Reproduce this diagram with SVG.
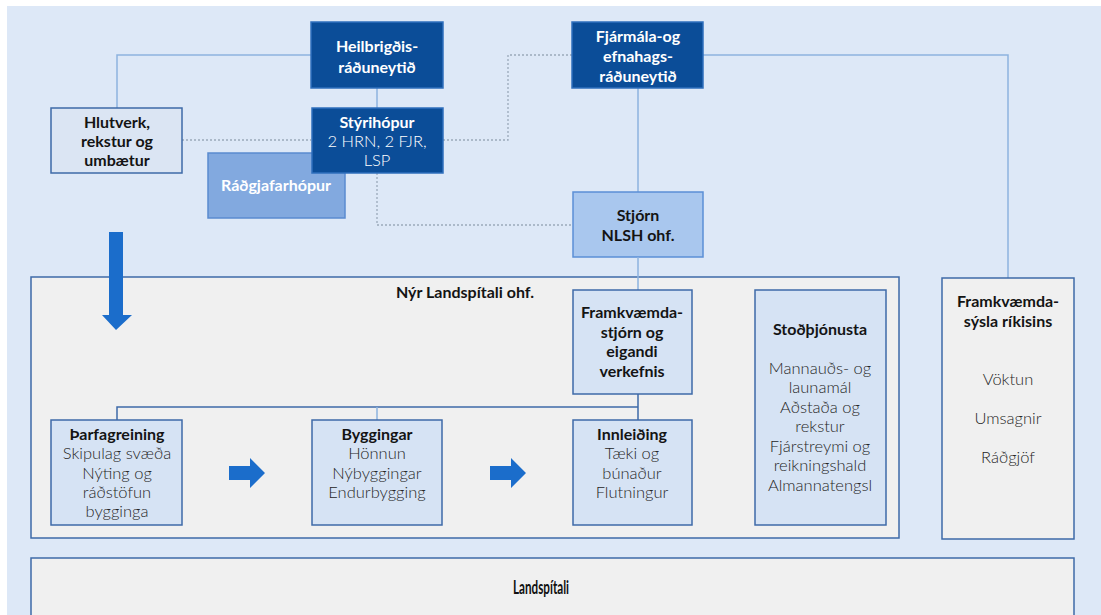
<svg xmlns="http://www.w3.org/2000/svg" width="1101" height="615" viewBox="0 0 1101 615">
  <style>
    .dark { fill: #0b4d98; stroke: #2f6fbd; stroke-width: 1.5; }
    .mid { fill: #82a9df; stroke: #5a8bd0; stroke-width: 1.5; }
    .pale { fill: #a9c7ee; stroke: #5b8fd6; stroke-width: 1.5; }
    .soft { fill: #d6e3f4; stroke: #3e6aa8; stroke-width: 1.5; }
    .grey { fill: #f0f0f0; stroke: #3e6aa8; stroke-width: 1.5; }
    .line { fill: none; stroke: #8db3df; stroke-width: 1.5; }
    .dot { fill: none; stroke: #9aa9bb; stroke-width: 1.3; stroke-dasharray: 2 2; }
    .arrow { fill: #1b6dcb; }
    text { font-family: Lato, "Liberation Sans", sans-serif; font-size: 16px; text-anchor: middle; }
    .w { fill: #ffffff; }
    .k { fill: #141414; }
    .b { font-weight: 700; }
    .l { font-weight: 300; fill: #262626; font-size: 16.5px; }
    .cond { font-size: 18px; font-weight: 700; fill: #111111; }
  </style>

  <!-- background panel -->
  <rect x="7" y="6" width="1094" height="609" fill="#dde8f7"/>

  <!-- connectors -->
  <g id="connectors">
    <polyline class="line" points="311,55 117,55 117,108"/>
    <line class="line" x1="377" y1="88" x2="377" y2="108"/>
    <line class="line" x1="638" y1="88" x2="638" y2="192"/>
    <polyline class="line" points="703,55 1008,55 1008,278"/>
    <polyline class="dot" points="182,140 311,140"/>
    <polyline class="dot" points="443,140 508,140 508,55 572,55"/>
    <polyline class="dot" points="377,173 377,225 573,225"/>
  </g>

  <g id="node-radgjafarhopur">
    <rect class="mid" x="208" y="153" width="137" height="65"/>
    <text class="w b" x="276" y="191">Ráðgjafarhópur</text>
  </g>

  <g id="node-heilbrigdis">
    <rect class="dark" x="311" y="22" width="132" height="66"/>
    <text class="w b" x="377" y="52">Heilbrigðis-</text>
    <text class="w b" x="377" y="73">ráðuneytið</text>
  </g>

  <g id="node-styrihopur">
    <rect class="dark" x="312" y="108" width="131" height="65"/>
    <text class="w b" x="377" y="128">Stýrihópur</text>
    <text class="w" x="377" y="147" style="font-weight:300;font-size:16.5px">2 HRN, 2 FJR,</text>
    <text class="w" x="377" y="166" style="font-weight:300;font-size:16.5px">LSP</text>
  </g>

  <g id="node-hlutverk">
    <rect x="51" y="108" width="131" height="65" fill="#dbe5f3" stroke="#3e6aa8" stroke-width="1.5"/>
    <text class="k b" x="117" y="128">Hlutverk,</text>
    <text class="k b" x="117" y="147">rekstur og</text>
    <text class="k b" x="117" y="166">umbætur</text>
  </g>

  <g id="node-fjarmala">
    <rect class="dark" x="572" y="22" width="131" height="66"/>
    <text class="w b" x="638" y="42">Fjármála-og</text>
    <text class="w b" x="638" y="62">efnahags-</text>
    <text class="w b" x="638" y="82">ráðuneytið</text>
  </g>

  <g id="node-stjorn">
    <rect class="pale" x="573" y="192" width="130" height="65"/>
    <text class="k b" x="638" y="221">Stjórn</text>
    <text class="k b" x="638" y="241">NLSH ohf.</text>
  </g>

  <!-- Nýr Landspítali ohf. container -->
  <g id="node-nlsh">
    <rect class="grey" x="31" y="277" width="868" height="261"/>
    <text class="k b" x="465" y="298">Nýr Landspítali ohf.</text>
  </g>

  <!-- connectors inside the container -->
  <g id="connectors-inner">
    <line class="line" x1="638" y1="257" x2="638" y2="290" stroke="#6f9ad3"/>
    <line x1="638" y1="394" x2="638" y2="420" stroke="#3e6aa8" stroke-width="1.5"/>
    <polyline points="117,420 117,407 638,407" fill="none" stroke="#3e6aa8" stroke-width="1.5"/>
    <line class="line" x1="377" y1="407" x2="377" y2="420"/>
  </g>

  <g id="node-framkvaemdastjorn">
    <rect class="soft" x="573" y="290" width="119" height="104"/>
    <text class="k b" x="632" y="318">Framkvæmda-</text>
    <text class="k b" x="632" y="338">stjórn og</text>
    <text class="k b" x="632" y="357">eigandi</text>
    <text class="k b" x="632" y="377">verkefnis</text>
  </g>

  <g id="node-stodthjonusta">
    <rect class="soft" x="755" y="290" width="131" height="235"/>
    <text class="k b" x="820" y="335">Stoðþjónusta</text>
    <text class="l" x="820" y="374">Mannauðs- og</text>
    <text class="l" x="820" y="393">launamál</text>
    <text class="l" x="820" y="413">Aðstaða og</text>
    <text class="l" x="820" y="432">rekstur</text>
    <text class="l" x="820" y="452">Fjárstreymi og</text>
    <text class="l" x="820" y="471">reikningshald</text>
    <text class="l" x="820" y="491">Almannatengsl</text>
  </g>

  <g id="node-tharfagreining">
    <rect class="soft" x="51" y="420" width="131" height="105"/>
    <text class="k b" x="117" y="440">Þarfagreining</text>
    <text class="l" x="117" y="459">Skipulag svæða</text>
    <text class="l" x="117" y="479">Nýting og</text>
    <text class="l" x="117" y="498">ráðstöfun</text>
    <text class="l" x="117" y="517">bygginga</text>
  </g>

  <g id="node-byggingar">
    <rect class="soft" x="312" y="420" width="130" height="105"/>
    <text class="k b" x="377" y="440">Byggingar</text>
    <text class="l" x="377" y="459">Hönnun</text>
    <text class="l" x="377" y="479">Nýbyggingar</text>
    <text class="l" x="377" y="498">Endurbygging</text>
  </g>

  <g id="node-innleiding">
    <rect class="soft" x="573" y="420" width="119" height="105"/>
    <text class="k b" x="632" y="440">Innleiðing</text>
    <text class="l" x="632" y="459">Tæki og</text>
    <text class="l" x="632" y="479">búnaður</text>
    <text class="l" x="632" y="498">Flutningur</text>
  </g>

  <g id="node-framkvaemdasysla">
    <rect class="grey" x="942" y="278" width="132" height="261"/>
    <text class="k b" x="1008" y="307">Framkvæmda-</text>
    <text class="k b" x="1008" y="327">sýsla ríkisins</text>
    <text class="l" x="1008" y="385">Vöktun</text>
    <text class="l" x="1008" y="424">Umsagnir</text>
    <text class="l" x="1008" y="463">Ráðgjöf</text>
  </g>

  <g id="node-landspitali">
    <rect class="grey" x="31" y="558" width="1043" height="70"/>
    <text class="cond" x="541" y="594" textLength="56" lengthAdjust="spacingAndGlyphs">Landspítali</text>
  </g>

  <!-- flow arrows -->
  <g id="arrows">
    <polygon class="arrow" points="109,232 123,232 123,315 132,315 116,330 102,315 109,315"/>
    <polygon class="arrow" points="229,466 250,466 250,458 265,473 250,488 250,480 229,480"/>
    <polygon class="arrow" points="490,466 511,466 511,458 526,473 511,488 511,480 490,480"/>
  </g>
</svg>
